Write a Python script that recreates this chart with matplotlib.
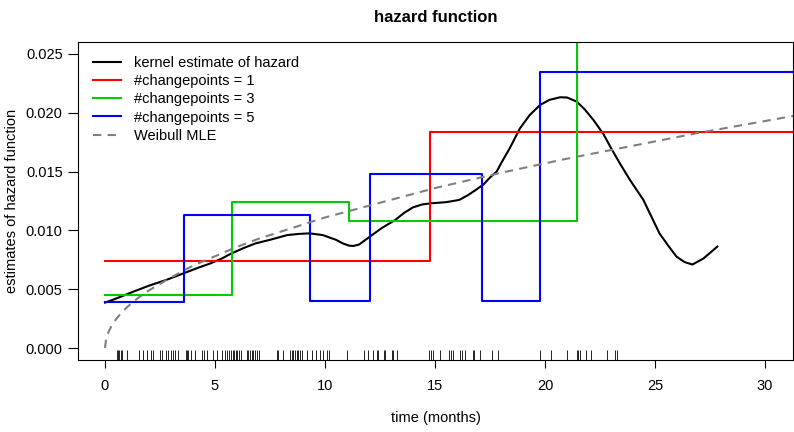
import matplotlib
matplotlib.use("Agg")
import matplotlib.pyplot as plt
import matplotlib.transforms as mtransforms

plt.rcParams['font.family'] = ['Liberation Sans', 'DejaVu Sans']

# kernel estimate of hazard
kernel_t = [0.0, 0.5, 1.3, 2.0, 2.8, 3.57, 4.2, 4.8, 5.3, 5.7, 6.3, 6.85, 7.5, 8.28,
            8.8, 9.3, 9.9, 10.5, 10.8, 11.1, 11.3, 11.55, 12.06, 12.58, 13.2, 13.6,
            14.0, 14.4, 14.8, 15.5, 16.1, 16.5, 16.85, 17.2, 17.5, 17.8, 18.0, 18.4,
            18.86, 19.3, 19.77, 20.2, 20.68, 21.0, 21.44, 21.8, 22.2, 22.65, 23.0,
            23.4, 23.86, 24.47, 25.2, 25.6, 25.98, 26.35, 26.7, 27.2, 27.83]
kernel_h = [0.00386, 0.0042, 0.0048, 0.0053, 0.0058, 0.00635, 0.0068, 0.0072, 0.0076,
            0.0080, 0.0085, 0.0089, 0.0092, 0.0096, 0.0097, 0.00975, 0.0096, 0.0092,
            0.0089, 0.0087, 0.00868, 0.0088, 0.0095, 0.0102, 0.0109, 0.0115, 0.01196,
            0.0122, 0.0123, 0.0124, 0.01259, 0.0130, 0.01344, 0.0139, 0.0145, 0.0150,
            0.0157, 0.0170, 0.01868, 0.0198, 0.02066, 0.0211, 0.02132, 0.0213,
            0.02095, 0.0203, 0.01939, 0.0182, 0.0170, 0.0157, 0.01429, 0.01259,
            0.00975, 0.0087, 0.00776, 0.0073, 0.0071, 0.00761, 0.00862]

# piecewise-constant changepoint fits: breakpoints and levels
cp1_breaks = [0.0, 14.78, 32.0]
cp1_levels = [0.0074, 0.01834]
cp3_breaks = [0.0, 5.75, 11.07, 21.44, 32.0]
cp3_levels = [0.0045, 0.0124, 0.0108, 0.0300]
cp5_breaks = [0.0, 3.6, 9.3, 12.03, 17.15, 19.77, 32.0]
cp5_levels = [0.0039, 0.0113, 0.0040, 0.0148, 0.0040, 0.02347]

# Weibull MLE hazard
weib_t = [0, 0.05, 0.15, 0.3, 0.5, 0.75, 1, 1.5, 2, 3, 4, 5, 6, 7, 8, 10, 12, 15,
          18, 21, 24, 27, 30, 31.5]
weib_h = [0, 0.00076, 0.00133, 0.00189, 0.00244, 0.0030, 0.00347, 0.00425, 0.0049,
          0.0060, 0.0070, 0.0078, 0.0086, 0.0093, 0.0099, 0.0111, 0.0121, 0.0136,
          0.0149, 0.0161, 0.0172, 0.0183, 0.0193, 0.0198]

# observed event times (rug)
rug_t = [0.56, 0.60, 0.65, 0.71, 0.79, 1.02, 1.56, 1.74, 1.91, 2.07, 2.20, 2.50, 2.58,
         2.75, 2.88, 3.00, 3.09, 3.16, 3.33, 3.68, 3.74, 3.79, 3.89, 4.09, 4.41, 4.48,
         4.62, 4.93, 5.10, 5.30, 5.45, 5.56, 5.65, 5.71, 5.80, 5.86, 5.95, 6.01, 6.10,
         6.17, 6.44, 6.51, 6.59, 6.67, 6.74, 6.82, 6.90, 7.01, 7.80, 7.88, 8.10, 8.41,
         8.49, 8.56, 8.64, 8.71, 8.79, 8.86, 8.94, 9.20, 9.40, 9.59, 9.77, 9.92, 10.08,
         10.20, 11.02, 11.77, 11.97, 12.17, 12.38, 12.42, 12.68, 12.73, 13.06, 13.10,
         13.26, 14.74, 14.80, 14.92, 15.23, 15.65, 15.71, 15.83, 16.14, 16.21, 16.36,
         16.71, 16.77, 17.05, 17.58, 17.88, 19.77, 20.27, 20.99, 21.43, 21.50, 21.59,
         21.86, 22.08, 22.80, 23.18, 23.25]

x_ticks = [0, 5, 10, 15, 20, 25, 30]
y_ticks = [0.000, 0.005, 0.010, 0.015, 0.020, 0.025]
y_ticklabels = ["0.000", "0.005", "0.010", "0.015", "0.020", "0.025"]

legend_labels = ["kernel estimate of hazard", "#changepoints = 1",
                 "#changepoints = 3", "#changepoints = 5", "Weibull MLE"]

FS = 10.5

fig = plt.figure(figsize=(7.94, 4.32), dpi=100)
W, H = 794, 432
left, right, top, bottom = 78, 793, 42, 360
ax = fig.add_axes([left / W, 1 - bottom / H, (right - left) / W, (bottom - top) / H])

ax.plot(kernel_t, kernel_h, color='black', lw=1.5, label=legend_labels[0])
ax.step(cp1_breaks, cp1_levels + [cp1_levels[-1]], where='post', color='#FF0000', lw=1.5,
        label=legend_labels[1])
ax.step(cp3_breaks, cp3_levels + [cp3_levels[-1]], where='post', color='#00CD00', lw=1.5,
        label=legend_labels[2])
ax.step(cp5_breaks, cp5_levels + [cp5_levels[-1]], where='post', color='#0000FF', lw=1.5,
        label=legend_labels[3])
ax.plot(weib_t, weib_h, color='#7F7F7F', lw=1.5, dashes=(4, 3), label=legend_labels[4])

trans = mtransforms.blended_transform_factory(ax.transData, ax.transAxes)
ax.vlines(rug_t, 0, 0.03, transform=trans, color='black', lw=0.6)

ax.set_xlim(-1.227, 31.27)
ax.set_ylim(-0.00102, 0.02602)
ax.set_xticks(x_ticks)
ax.set_xticklabels([str(v) for v in x_ticks])
ax.set_yticks(y_ticks)
ax.set_yticklabels(y_ticklabels)
ax.tick_params(axis='x', direction='out', length=6, width=0.8, pad=8, labelsize=FS)
ax.tick_params(axis='y', direction='out', length=7, width=0.8, pad=4, labelsize=FS)
for s in ax.spines.values():
    s.set_linewidth(0.8)
    s.set_color('black')

ax.set_xlabel("time (months)", fontsize=FS)
ax.xaxis.set_label_coords(0.5, -(418 - bottom) / (bottom - top), transform=ax.transAxes)
ax.set_ylabel("estimates of hazard function", fontsize=FS)
ax.yaxis.set_label_coords(-(left - 12) / (right - left), 0.5, transform=ax.transAxes)
ax.yaxis.label.set_verticalalignment('center')
ax.xaxis.label.set_verticalalignment('center')

fig.text((left + right) / 2 / W, 1 - 17 / H, "hazard function", ha='center', va='center',
         fontsize=12, fontweight='bold')

leg = ax.legend(loc='upper left', frameon=False, fontsize=FS, handlelength=1.95,
                handletextpad=0.85, labelspacing=0.29, borderaxespad=0.0,
                bbox_to_anchor=((87 - left) / (right - left), 1 - (50 - top) / (bottom - top)))

fig.savefig("out.png", dpi=100)
